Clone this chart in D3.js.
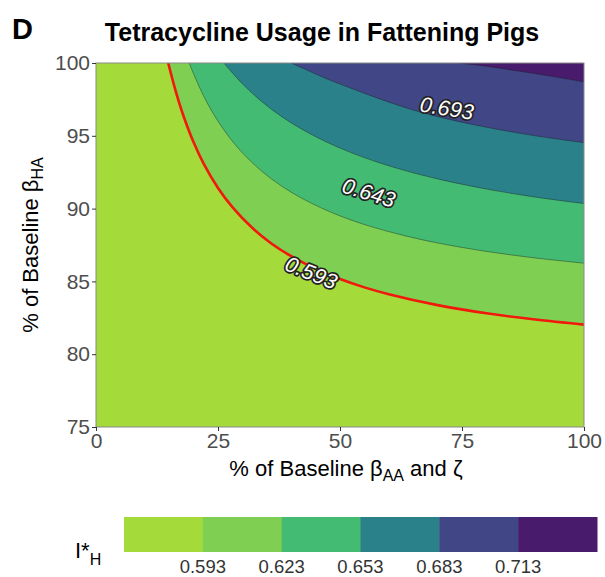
<!DOCTYPE html>
<html><head><meta charset="utf-8">
<script src="https://cdn.jsdelivr.net/npm/d3@7"></script>
<style>
body{margin:0;background:#fff;}
text{font-family:"Liberation Sans",Arial,sans-serif;}
</style></head>
<body><svg id="chart" width="605" height="577"></svg>
<script>
// ---- data ----
const xTicks = [0, 25, 50, 75, 100];
const yTicks = [75, 80, 85, 90, 95, 100];
const levels = [0.593, 0.623, 0.653, 0.683, 0.713];
const binColors = ["#a5da3b", "#7fd052", "#43bb72", "#2a818a", "#414686", "#481b6d"];
// iso-lines (x = % baseline beta_AA & zeta, y = % baseline beta_HA)
const iso0593 = [[14.8,100],[16,98.46],[17,97.31],[18,96.29],[20,94.55],[22,93.13],[25,91.42],[28,90.08],[32,88.68],[36,87.59],[40,86.73],[45,85.86],[50,85.16],[55,84.59],[60,84.12],[70,83.37],[80,82.81],[90,82.38],[100,82.03]];
const iso0623 = [[19.1,100],[20,99.25],[22,97.77],[24,96.54],[27,95.04],[30,93.83],[34,92.56],[38,91.55],[42,90.74],[46,90.07],[50,89.5],[56,88.8],[63,88.16],[70,87.64],[80,87.06],[90,86.61],[100,86.25]];
const iso0653 = [[26.2,100],[30,98.57],[34,97.34],[38,96.33],[42,95.49],[47,94.61],[52,93.88],[58,93.15],[64,92.55],[70,92.04],[78,91.47],[86,91.0],[93,90.65],[100,90.35]];
const iso0683 = [[40.0,100],[43,99.55],[47,98.95],[52,98.3],[58,97.55],[65,96.77],[72,96.16],[80,95.59],[90,95.0],[100,94.53]];
const iso0713 = [[74.2,100],[80,99.78],[87.5,99.4],[94,99.05],[100,98.7]];
const isoLines = [iso0593, iso0623, iso0653, iso0683, iso0713];
const contourLabels = ["0.593", "0.643", "0.693"];
const contourLabelX = [44.1, 55.9, 71.9];
const contourLabelY = [85.6, 91.1, 96.9];

// ---- layout ----
const svg = d3.select("#chart");
const L = 96, R = 584, T = 63, B = 427;
const x = d3.scaleLinear().domain([0, 100]).range([L, R]);
const y = d3.scaleLinear().domain([75, 100]).range([B, T]);

svg.append("defs").append("clipPath").attr("id", "clip")
  .append("rect").attr("x", L).attr("y", T).attr("width", R - L).attr("height", B - T);

const plot = svg.append("g").attr("clip-path", "url(#clip)");
plot.append("rect").attr("x", L).attr("y", T).attr("width", R - L).attr("height", B - T)
  .attr("fill", binColors[0]);

const line = d3.line().x(d => x(d[0])).y(d => y(d[1])).curve(d3.curveCatmullRom.alpha(0.5));

isoLines.forEach((pts, i) => {
  plot.append("path")
    .attr("d", line(pts) + `L${x(100)},${y(100)}Z`)
    .attr("fill", binColors[i + 1]);
});
isoLines.forEach((pts, i) => {
  plot.append("path")
    .attr("d", line(pts))
    .attr("fill", "none")
    .attr("stroke", i === 0 ? "#f0190c" : "#1a1a1a")
    .attr("stroke-width", i === 0 ? 2.6 : 0.5)
    .attr("stroke-opacity", i === 0 ? 1 : 0.8);
});

// contour labels
const labAngles = [22, 17, 9];
contourLabels.forEach((t, i) => {
  svg.append("text")
    .attr("transform", `translate(${x(contourLabelX[i])},${y(contourLabelY[i])}) rotate(${labAngles[i]})`)
    .attr("text-anchor", "middle").attr("dy", "0.35em")
    .attr("font-size", 21.5).attr("font-style", "italic")
    .attr("fill", "#fff").attr("stroke", "#222").attr("stroke-width", 3.4)
    .attr("paint-order", "stroke").attr("stroke-linejoin", "round")
    .text(t);
});

// panel border
svg.append("rect").attr("x", L).attr("y", T).attr("width", R - L).attr("height", B - T)
  .attr("fill", "none").attr("stroke", "#8a8a8a").attr("stroke-width", 1);

// axes
const xAxis = svg.append("g").attr("transform", `translate(0,${B})`)
  .call(d3.axisBottom(x).tickValues(xTicks).tickSize(4).tickPadding(2));
const yAxis = svg.append("g").attr("transform", `translate(${L},0)`)
  .call(d3.axisLeft(y).tickValues(yTicks).tickSize(4).tickPadding(2));
[xAxis, yAxis].forEach(g => {
  g.select(".domain").remove();
  g.selectAll(".tick line").attr("stroke", "#333");
  g.selectAll(".tick text").attr("fill", "#4d4d4d").attr("font-size", 21)
    .attr("font-family", "Liberation Sans, Arial, sans-serif");
});

// titles
svg.append("text").attr("x", 12).attr("y", 39).attr("font-size", 29).attr("font-weight", "bold").text("D");
svg.append("text").attr("x", 322).attr("y", 41).attr("text-anchor", "middle")
  .attr("font-size", 25).attr("font-weight", "bold").text("Tetracycline Usage in Fattening Pigs");

const xt = svg.append("text").attr("x", 346).attr("y", 476).attr("text-anchor", "middle").attr("font-size", 22);
xt.append("tspan").text("% of Baseline β");
xt.append("tspan").attr("font-size", 16).attr("dy", 5).text("AA");
xt.append("tspan").attr("dy", -5).text(" and ζ");

const yt = svg.append("text").attr("transform", `translate(38,245) rotate(-90)`)
  .attr("text-anchor", "middle").attr("font-size", 22);
yt.append("tspan").text("% of Baseline β");
yt.append("tspan").attr("font-size", 16).attr("dy", 5).text("HA");

// legend
const lx = d3.scaleLinear().domain([0, binColors.length]).range([124, 597]);
const LT = 517, LB = 552;
svg.append("g").selectAll("rect").data(binColors).join("rect")
  .attr("x", (d, i) => lx(i)).attr("y", LT)
  .attr("width", (d, i) => lx(i + 1) - lx(i) + 0.5).attr("height", LB - LT)
  .attr("fill", d => d);
svg.append("g").selectAll("text").data(levels).join("text")
  .attr("x", (d, i) => lx(i + 1)).attr("y", 573).attr("text-anchor", "middle")
  .attr("font-size", 18.5).attr("fill", "#333").text(d => d.toFixed(3));
const lt = svg.append("text").attr("x", 75).attr("y", 558).attr("font-size", 22);
lt.append("tspan").text("I*");
lt.append("tspan").attr("font-size", 16).attr("dy", 7).text("H");
</script>
</body></html>
